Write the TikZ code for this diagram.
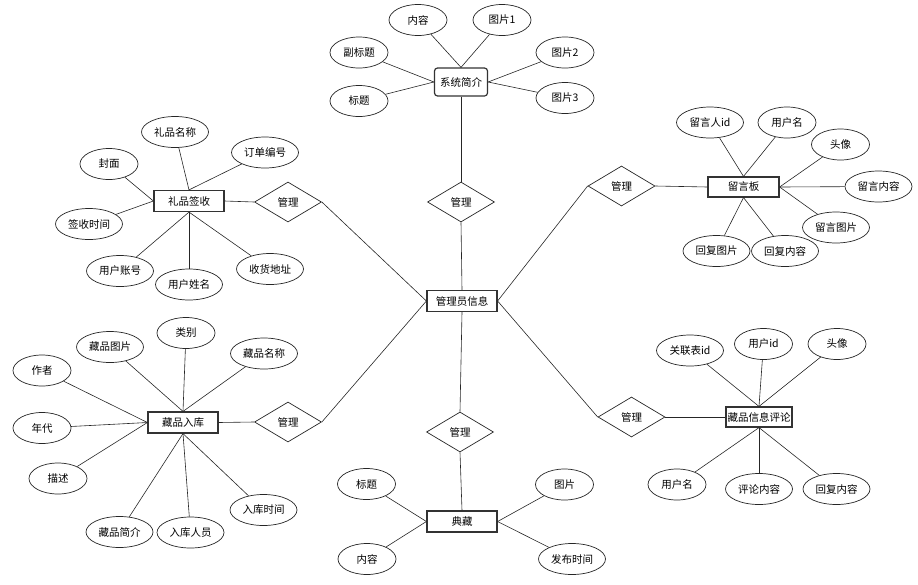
\documentclass[tikz,border=0pt]{standalone}
\usepackage{fontspec}
\setmainfont{Noto Sans CJK SC}
\usetikzlibrary{shapes.geometric}
\tikzset{
  base/.style={font=\fontsize{10.5}{12}\selectfont, text=black},
  attr/.style={base, ellipse, draw=black!85, line width=0.7pt, fill=white, minimum width=58pt, minimum height=31pt, inner sep=0pt},
  attrw/.style={attr, minimum width=67pt},
  ent/.style={base, rectangle, draw=black!80, line width=1.2pt, fill=white, minimum width=70pt, minimum height=21pt, inner sep=1pt},
  rel/.style={base, diamond, draw=black!85, line width=0.7pt, fill=white, minimum width=67pt, minimum height=40pt, inner sep=0pt},
  link/.style={draw=black!85, line width=0.6pt}
}
\begin{document}
\begin{tikzpicture}[x=1pt,y=-1pt]
\useasboundingbox (0,0) rectangle (918,584);
% central
\node[ent] (mgr) at (462,301) {管理员信息};
% system intro
\node[ent, rounded corners=3pt, minimum width=53pt, minimum height=28pt] (sys) at (461,82) {系统简介};
\node[attr] (s1) at (418,20) {内容};
\node[attr] (s2) at (502,20) {图片1};
\node[attr] (s3) at (359,52.5) {副标题};
\node[attr] (s4) at (359,101) {标题};
\node[attr] (s5) at (565,52.5) {图片2};
\node[attr] (s6) at (565,98) {图片3};
\node[rel] (r0) at (461,202) {管理};
% gift sign
\node[ent] (gift) at (189,201) {礼品签收};
\node[rel] (r1) at (288,202) {管理};
\node[attrw] (g1) at (175,132) {礼品名称};
\node[attrw] (g2) at (265,152.5) {订单编号};
\node[attr] (g3) at (109,164) {封面};
\node[attrw] (g4) at (89,224) {签收时间};
\node[attrw] (g5) at (120,271) {用户账号};
\node[attrw] (g6) at (189,284.5) {用户姓名};
\node[attrw] (g7) at (270,269) {收货地址};
% collection storage
\node[ent] (coll) at (183,422.5) {藏品入库};
\node[rel] (r2) at (288,422) {管理};
\node[attr] (c1) at (186,333) {类别};
\node[attrw] (c2) at (110,347) {藏品图片};
\node[attrw] (c3) at (264,353.5) {藏品名称};
\node[attr] (c4) at (42,370.5) {作者};
\node[attr] (c5) at (42,428) {年代};
\node[attr] (c6) at (58,478.5) {描述};
\node[attrw] (c7) at (119.5,532) {藏品简介};
\node[attrw] (c8) at (190.5,532.5) {入库人员};
\node[attrw] (c9) at (263.5,510) {入库时间};
% message board
\node[ent, minimum width=71pt, minimum height=20pt] (msg) at (743.5,187) {留言板};
\node[rel] (r3) at (621.5,186) {管理};
\node[attrw] (m1) at (710,122.5) {留言人id};
\node[attr] (m2) at (787,122.5) {用户名};
\node[attr] (m3) at (840.5,144.5) {头像};
\node[attrw] (m4) at (878.5,186.5) {留言内容};
\node[attrw] (m5) at (836,227.5) {留言图片};
\node[attrw] (m6) at (716.5,251) {回复图片};
\node[attrw] (m7) at (785,251) {回复内容};
% comments
\node[ent, minimum width=66pt, minimum height=20pt] (cmt) at (759,417) {藏品信息评论};
\node[rel] (r4) at (631.5,417) {管理};
\node[attrw] (k1) at (690,350.5) {关联表id};
\node[attr] (k2) at (763.5,344) {用户id};
\node[attr] (k3) at (837,344) {头像};
\node[attr] (k4) at (677,484.5) {用户名};
\node[attrw] (k5) at (759,489) {评论内容};
\node[attrw] (k6) at (836.5,489) {回复内容};
% collection
\node[ent] (dc) at (462,521.5) {典藏};
\node[rel] (r5) at (460,432) {管理};
\node[attr] (d1) at (366.5,484) {标题};
\node[attr] (d2) at (367,559) {内容};
\node[attr] (d3) at (564.5,484.5) {图片};
\node[attrw] (d4) at (572,559) {发布时间};
% connectors
\begin{scope}[on background layer/.style={}]
\draw[link] (sys.north) -- (s1);
\draw[link] (sys.north) -- (s2);
\draw[link] (sys.west) -- (s3);
\draw[link] (sys.west) -- (s4);
\draw[link] (sys.east) -- (s5);
\draw[link] (sys.east) -- (s6);
\draw[link] (sys.south) -- (r0.north);
\draw[link] (r0.south) -- (mgr.north);
\draw[link] (r1.east) -- (mgr.west);
\draw[link] (r2.east) -- (mgr.west);
\draw[link] (r3.west) -- (mgr.east);
\draw[link] (r4.west) -- (mgr.east);
\draw[link] (mgr.south) -- (r5.north);
\draw[link] (r5.south) -- (dc.north);
\draw[link] (gift.east) -- (r1.west);
\draw[link] (gift.north) -- (g1);
\draw[link] (gift.north) -- (g2);
\draw[link] (gift.west) -- (g3);
\draw[link] (gift.west) -- (g4);
\draw[link] (gift.south) -- (g5);
\draw[link] (gift.south) -- (g6);
\draw[link] (gift.south) -- (g7);
\draw[link] (coll.east) -- (r2.west);
\draw[link] (coll.north) -- (c1);
\draw[link] (coll.north) -- (c2);
\draw[link] (coll.north) -- (c3);
\draw[link] (coll.west) -- (c4);
\draw[link] (coll.west) -- (c5);
\draw[link] (coll.west) -- (c6);
\draw[link] (coll.south) -- (c7);
\draw[link] (coll.south) -- (c8);
\draw[link] (coll.south) -- (c9);
\draw[link] (r3.east) -- (msg.west);
\draw[link] (msg.north) -- (m1);
\draw[link] (msg.north) -- (m2);
\draw[link] (msg.east) -- (m3);
\draw[link] (msg.east) -- (m4);
\draw[link] (msg.east) -- (m5);
\draw[link] (msg.south) -- (m6);
\draw[link] (msg.south) -- (m7);
\draw[link] (r4.east) -- (cmt.west);
\draw[link] (cmt.north) -- (k1);
\draw[link] (cmt.north) -- (k2);
\draw[link] (cmt.north) -- (k3);
\draw[link] (cmt.south) -- (k4);
\draw[link] (cmt.south) -- (k5);
\draw[link] (cmt.south) -- (k6);
\draw[link] (dc.west) -- (d1);
\draw[link] (dc.west) -- (d2);
\draw[link] (dc.east) -- (d3);
\draw[link] (dc.east) -- (d4);
\end{scope}
\end{tikzpicture}
\end{document}
